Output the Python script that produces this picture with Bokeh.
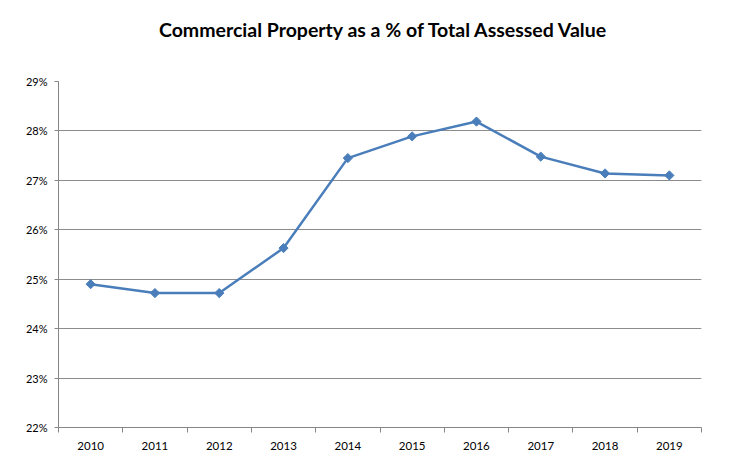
import math
from bokeh.plotting import figure
from bokeh.models import FixedTicker, Range1d, NumeralTickFormatter, Div
from bokeh.layouts import column
from bokeh.embed import file_html
from bokeh.resources import INLINE

years = ["2010", "2011", "2012", "2013", "2014", "2015", "2016", "2017", "2018", "2019"]
values = [0.2490, 0.2472, 0.2472, 0.2563, 0.2745, 0.2789, 0.2819, 0.2748, 0.2714, 0.2710]
y_ticks = [0.22, 0.23, 0.24, 0.25, 0.26, 0.27, 0.28, 0.29]
title_text = "Commercial Property as a % of Total Assessed Value"

FONT = "Lato"
xs = [i + 0.5 for i in range(len(years))]

title = Div(text=title_text, width=720, height=66, margin=(0, 0, 0, 12),
            styles={"font-family": FONT, "font-size": "19.5px", "font-weight": "bold",
                    "color": "#000000", "text-align": "center", "line-height": "24px",
                    "padding-top": "18px", "width": "100%"})

p = figure(width=741, height=398, output_backend="svg", toolbar_location=None,
           x_range=Range1d(0, len(years)), y_range=Range1d(0.22, 0.29),
           min_border_left=58, min_border_right=40, min_border_top=15, min_border_bottom=37)
p.outline_line_color = None
p.background_fill_color = "white"
p.border_fill_color = "white"

# x axis
p.xaxis.ticker = FixedTicker(ticks=xs, minor_ticks=list(range(len(years) + 1)))
p.xaxis.major_label_overrides = {x: y for x, y in zip(xs, years)}
p.xaxis.major_tick_out = 0
p.xaxis.major_tick_in = 0
p.xaxis.minor_tick_out = 5
p.xaxis.minor_tick_in = 0
p.xaxis.minor_tick_line_color = "#868686"
p.xaxis.axis_line_color = "#868686"
p.xaxis.major_label_text_font = FONT
p.xaxis.major_label_text_font_size = "11.5px"
p.xaxis.major_label_text_color = "#000000"
p.xaxis.major_label_standoff = 9

# y axis
p.yaxis.ticker = FixedTicker(ticks=y_ticks, minor_ticks=[])
p.yaxis.formatter = NumeralTickFormatter(format="0%")
p.yaxis.major_tick_out = 4
p.yaxis.major_tick_in = 0
p.yaxis.major_tick_line_color = "#868686"
p.yaxis.axis_line_color = "#868686"
p.yaxis.major_label_text_font = FONT
p.yaxis.major_label_text_font_size = "11px"
p.yaxis.major_label_text_color = "#000000"
p.yaxis.major_label_standoff = 7

p.xgrid.grid_line_color = None
p.ygrid.grid_line_color = "#8c8c8c"
p.ygrid.grid_line_width = 1

p.line(xs, values, line_color="#4a7ebb", line_width=2.5)
p.scatter(xs, values, marker="square", size=6.5, angle=math.pi / 4,
          fill_color="#4a7ebb", line_color="#4a7ebb")

layout = column(title, p, spacing=0)
open("out.html", "w").write(file_html(layout, INLINE))
